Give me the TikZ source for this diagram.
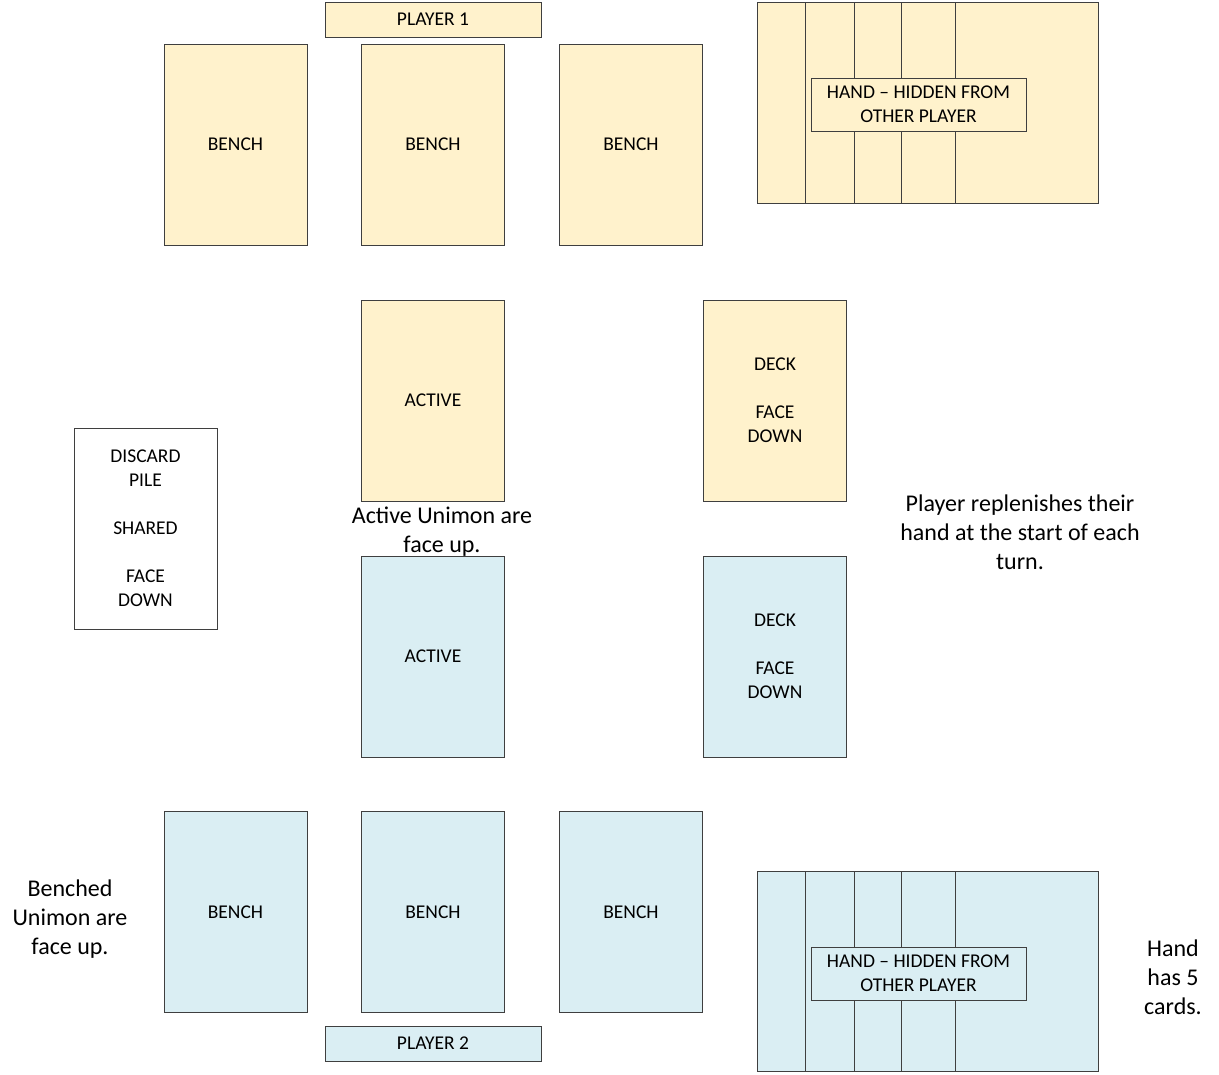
\documentclass[tikz,border=0pt]{standalone}
\usepackage{fontspec}
\setmainfont{Carlito}
\definecolor{pone}{HTML}{FFF2CC}
\definecolor{ptwo}{HTML}{DAEEF3}
\definecolor{edge}{HTML}{3F3F3F}
\begin{document}
\begin{tikzpicture}[x=1pt,y=-1pt,
  box/.style={draw=edge, line width=0.9pt, inner sep=0pt, align=center,
    font=\fontsize{19.5}{24}\selectfont},
  cardbox/.style={box, minimum width=143pt, minimum height=201pt},
  yel/.style={fill=pone},
  blu/.style={fill=ptwo},
  note/.style={align=center, inner sep=0pt, font=\fontsize{24}{29}\selectfont}
]
\useasboundingbox (0,0) rectangle (1219,1075);

% Player 1 (top)
\node[box, yel, minimum width=216pt, minimum height=35pt] (p1) at (433,19.5) {PLAYER 1};
\node[cardbox, yel] (b1a) at (235.5,144.5) {BENCH};
\node[cardbox, yel] (b1b) at (433,144.5) {BENCH};
\node[cardbox, yel] (b1c) at (631,144.5) {BENCH};
\node[cardbox, yel] (act1) at (433,400.5) {ACTIVE};
\node[cardbox, yel] (deck1) at (775,400.5) {DECK\\[24pt]FACE\\DOWN};

% hand 1
\node[box, yel, minimum width=341pt, minimum height=201pt] (h1a) at (927.5,102.5) {};
\node[box, yel, minimum width=293pt, minimum height=201pt] (h1b) at (951.5,102.5) {};
\node[box, yel, minimum width=244pt, minimum height=201pt] (h1c) at (976,102.5) {};
\node[box, yel, minimum width=197pt, minimum height=201pt] (h1d) at (999.5,102.5) {};
\node[box, yel, minimum width=143pt, minimum height=201pt] (h1e) at (1026.5,102.5) {};
\node[box, yel, minimum width=215pt, minimum height=53pt] (hl1) at (918.5,104.5) {HAND -- HIDDEN FROM\\OTHER PLAYER};

% discard
\node[cardbox, fill=white] (disc) at (145.5,528.5) {DISCARD\\PILE\\[24pt]SHARED\\[24pt]FACE\\DOWN};

% Player 2 (bottom)
\node[cardbox, blu] (act2) at (433,656.5) {ACTIVE};
\node[cardbox, blu] (deck2) at (775,656.5) {DECK\\[24pt]FACE\\DOWN};
\node[cardbox, blu] (b2a) at (235.5,912) {BENCH};
\node[cardbox, blu] (b2b) at (433,912) {BENCH};
\node[cardbox, blu] (b2c) at (631,912) {BENCH};
\node[box, blu, minimum width=216pt, minimum height=35pt] (p2) at (433,1043.5) {PLAYER 2};

% hand 2
\node[box, blu, minimum width=341pt, minimum height=200pt] (h2a) at (927.5,971) {};
\node[box, blu, minimum width=293pt, minimum height=200pt] (h2b) at (951.5,971) {};
\node[box, blu, minimum width=244pt, minimum height=200pt] (h2c) at (976,971) {};
\node[box, blu, minimum width=197pt, minimum height=200pt] (h2d) at (999.5,971) {};
\node[box, blu, minimum width=143pt, minimum height=200pt] (h2e) at (1026.5,971) {};
\node[box, blu, minimum width=215pt, minimum height=53pt] (hl2) at (918.5,973.5) {HAND -- HIDDEN FROM\\OTHER PLAYER};

% notes
\node[note] (n1) at (442,532) {Active Unimon are\\face up.};
\node[note] (n2) at (1020,532) {Player replenishes their\\hand at the start of each\\turn.};
\node[note] (n3) at (70,919) {Benched\\Unimon are\\face up.};
\node[note] (n4) at (1173,977) {Hand\\has 5\\cards.};
\end{tikzpicture}
\end{document}
